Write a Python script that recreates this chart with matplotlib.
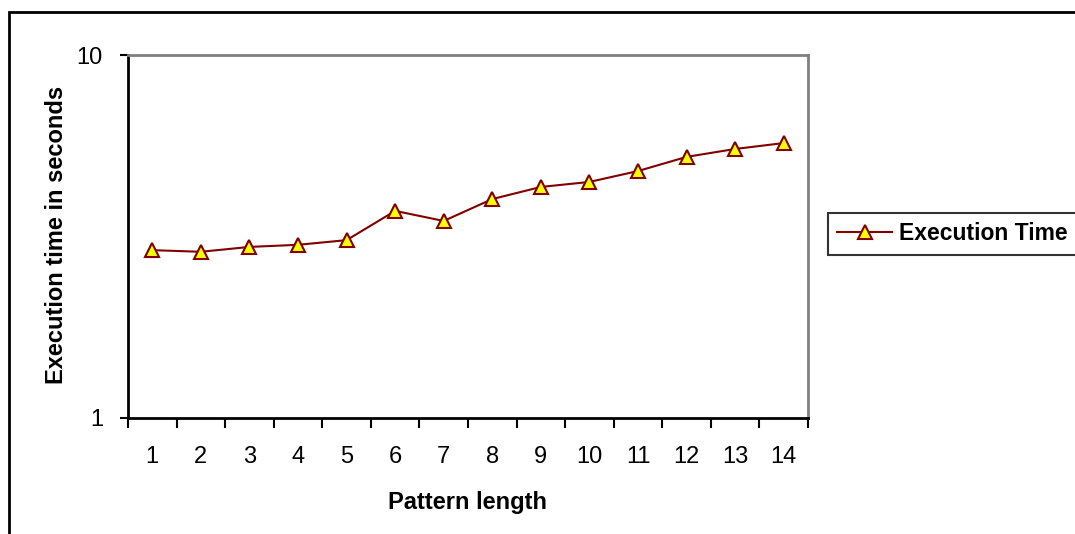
import matplotlib
matplotlib.use("Agg")
import matplotlib.pyplot as plt
from matplotlib.patches import Rectangle
from matplotlib.ticker import FixedLocator, NullFormatter, FixedFormatter, NullLocator

plt.rcParams["font.family"] = ["Liberation Sans", "DejaVu Sans"]

pattern_length = [1, 2, 3, 4, 5, 6, 7, 8, 9, 10, 11, 12, 13, 14]
exec_time = [2.90, 2.87, 2.96, 3.00, 3.09, 3.72, 3.49, 4.01, 4.33, 4.47, 4.79, 5.24, 5.51, 5.72]
y_ticks = [1, 10]
y_tick_labels = ["1", "10"]

fig = plt.figure(figsize=(10.75, 5.34), dpi=100)
ax = fig.add_axes([128 / 1075, 1 - 418 / 534, 680 / 1075, 363 / 534])

ax.plot(pattern_length, exec_time, color="#800000", linewidth=1.5,
        marker="^", markersize=10, markerfacecolor="#FFFF00",
        markeredgecolor="#800000", markeredgewidth=1.5, label="Execution Time")

ax.set_yscale("log")
ax.set_ylim(1, 10)
ax.set_xlim(0.5, 14.5)

# y axis: only the decade ticks
ax.yaxis.set_major_locator(FixedLocator(y_ticks))
ax.yaxis.set_major_formatter(FixedFormatter(y_tick_labels))
ax.yaxis.set_minor_locator(NullLocator())
ax.tick_params(axis="y", which="major", direction="out", length=6, width=1.5,
               labelsize=17, pad=12)

# x axis: ticks between categories, labels centred on them
ax.xaxis.set_major_locator(FixedLocator([i + 0.5 for i in range(15)]))
ax.xaxis.set_major_formatter(NullFormatter())
ax.xaxis.set_minor_locator(FixedLocator(pattern_length))
ax.xaxis.set_minor_formatter(FixedFormatter([str(p) for p in pattern_length]))
ax.tick_params(axis="x", which="major", direction="out", length=7, width=1.5)
ax.tick_params(axis="x", which="minor", length=0, labelsize=17, pad=20.5)

for side in ["left", "bottom"]:
    ax.spines[side].set_color("black")
    ax.spines[side].set_linewidth(2)
for side in ["top", "right"]:
    ax.spines[side].set_color("#808080")
    ax.spines[side].set_linewidth(2)

ax.set_xlabel("Pattern length", fontsize=17, fontweight="bold")
ax.xaxis.set_label_coords(0.5, -0.201)
ax.set_ylabel("Execution time in seconds", fontsize=17, fontweight="bold")
ax.yaxis.set_label_coords(-0.088, 0.505)

leg = fig.legend(loc="center left", bbox_to_anchor=(828 / 1075, 1 - 234 / 534),
                 fancybox=False, shadow=False, handlelength=2.4,
                 handletextpad=0.3, borderpad=0.4, borderaxespad=0,
                 prop={"size": 16.5, "weight": "bold"})
leg.get_frame().set_edgecolor("black")
leg.get_frame().set_linewidth(1.5)

# chart border
fig.patches.append(Rectangle((8.5 / 1075, -0.1), 1.2, 1.1 - 12.5 / 534,
                             transform=fig.transFigure, fill=False,
                             edgecolor="black", linewidth=2))

fig.savefig("out.png", dpi=100)
